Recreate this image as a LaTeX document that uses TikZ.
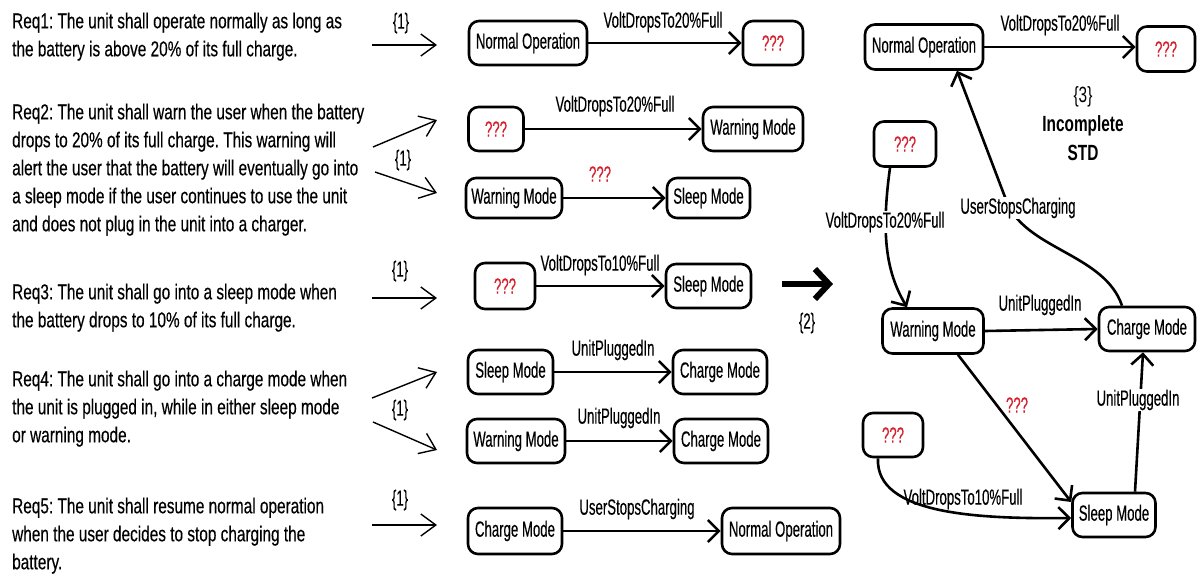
\documentclass[tikz,border=0pt]{standalone}
\usepackage{fontspec}
\setmainfont{Liberation Sans}
\newfontfamily\reqfont{Liberation Sans}[FakeStretch=0.715,FakeBold=0.3]
\newfontfamily\labfont{Liberation Sans}[FakeStretch=0.6,FakeBold=0.3]
\newfontfamily\stdfont{Liberation Sans}[FakeStretch=0.7]
\usetikzlibrary{arrows.meta}
\definecolor{qred}{RGB}{214,30,45}
\frenchspacing

\tikzset{
  state/.style={draw, line width=2.6pt, rounded corners=10pt, minimum height=44pt,
    inner sep=0pt, fill=white, font=\labfont\fontsize{22}{24}\selectfont},
  lab/.style={inner sep=1pt, font=\labfont\fontsize{22}{24}\selectfont},
  qm/.style={text=qred},
  trans/.style={line width=2.6pt, -{Straight Barb[length=11pt,width=22pt]}},
  req/.style={anchor=north west, inner sep=0pt, align=left,
    font=\reqfont\fontsize{21.5}{28}\selectfont},
  refarrow/.style={line width=1.4pt, -{Straight Barb[length=15pt,width=22pt]}},
  bigarrow/.style={line width=6pt, -{Straight Barb[length=14pt,width=30pt]}},
}

\begin{document}
\begin{tikzpicture}[x=1pt,y=-1pt]
\useasboundingbox[fill=white] (0,0) rectangle (1197,576);

% ---------- requirements ----------
\node[req] (req1) at (12,12.5) {Req1: The unit shall operate normally as long as\\the battery is above 20\% of its full charge.};
\node[req] (req2) at (12,103.5) {Req2: The unit shall warn the user when the battery\\drops to 20\% of its full charge. This warning will\\alert the user that the battery will eventually go into\\a sleep mode if the user continues to use the unit\\and does not plug in the unit into a charger.};
\node[req] (req3) at (12,283.5) {Req3: The unit shall go into a sleep mode when\\the battery drops to 10\% of its full charge.};
\node[req] (req4) at (12,370.5) {Req4: The unit shall go into a charge mode when\\the unit is plugged in, while in either sleep mode\\or warning mode.};
\node[req] (req5) at (12,497.5) {Req5: The unit shall resume normal operation\\when the user decides to stop charging the\\battery.};

% ---------- step {1} arrows ----------
\coordinate (a1s) at (372,45);  \coordinate (a1e) at (437,45);
\coordinate (a2s) at (373,147); \coordinate (a2e) at (437,120);
\coordinate (a3s) at (375,172); \coordinate (a3e) at (437,193);
\coordinate (a4s) at (372,298); \coordinate (a4e) at (437,298);
\coordinate (a5s) at (372,398); \coordinate (a5e) at (437,372);
\coordinate (a6s) at (373,422); \coordinate (a6e) at (437,450);
\coordinate (a7s) at (372,525); \coordinate (a7e) at (437,525);
\foreach \i in {1,...,7} \draw[refarrow] (a\i s) -- (a\i e);
\node[lab] (k1) at (401,23) {\{1\}};
\node[lab] (k2) at (403,160) {\{1\}};
\node[lab] (k3) at (400,271) {\{1\}};
\node[lab] (k4) at (400,410) {\{1\}};
\node[lab] (k5) at (400,500) {\{1\}};

% ---------- partial diagrams ----------
\node[state, minimum width=118pt] (n1a) at (528,43) {Normal Operation};
\node[state, minimum width=60pt, qm] (n1b) at (773,43) {???};
\node[state, minimum width=55pt, qm] (n2a) at (496,129) {???};
\node[state, minimum width=100pt] (n2b) at (753,129) {Warning Mode};
\node[state, minimum width=96pt, minimum height=40pt] (n3a) at (514,198) {Warning Mode};
\node[state, minimum width=83pt, minimum height=40pt] (n3b) at (708.5,198) {Sleep Mode};
\node[state, minimum width=60pt, minimum height=46pt, qm] (n4a) at (505,286) {???};
\node[state, minimum width=85pt] (n4b) at (708.5,286) {Sleep Mode};
\node[state, minimum width=85pt] (n5a) at (510.5,372) {Sleep Mode};
\node[state, minimum width=94pt] (n5b) at (720,372) {Charge Mode};
\node[state, minimum width=98pt] (n6a) at (516,441) {Warning Mode};
\node[state, minimum width=94pt] (n6b) at (721,441) {Charge Mode};
\node[state, minimum width=94pt, minimum height=46pt] (n7a) at (515,531) {Charge Mode};
\node[state, minimum width=118pt, minimum height=46pt] (n7b) at (781,531) {Normal Operation};

\draw[trans] (n1a.east) -- (n1b.west);
\draw[trans] (n2a.east) -- (n2b.west);
\draw[trans] (n3a.east) -- (n3b.west);
\draw[trans] (n4a.east) -- (n4b.west);
\draw[trans] (n5a.east) -- (n5b.west);
\draw[trans] (n6a.east) -- (n6b.west);
\draw[trans] (n7a.east) -- (n7b.west);

\node[lab] (l1) at (663,22) {VoltDropsTo20\%Full};
\node[lab] (l2) at (615,106) {VoltDropsTo20\%Full};
\node[lab, qm] (l3) at (600,174) {???};
\node[lab] (l4) at (600,265) {VoltDropsTo10\%Full};
\node[lab] (l5) at (613,350) {UnitPluggedIn};
\node[lab] (l6) at (619,418) {UnitPluggedIn};
\node[lab] (l7) at (637,509) {UserStopsCharging};

% ---------- step {2} ----------
\coordinate (b1) at (782,284); \coordinate (b2) at (833,284);
\draw[bigarrow] (b1) -- (b2);
\node[lab] (k6) at (807,323) {\{2\}};

% ---------- assembled state transition diagram ----------
\node[state, minimum width=118pt, minimum height=45pt] (no) at (924,47) {Normal Operation};
\node[state, minimum width=58pt, minimum height=45pt, qm] (qa) at (1166,49) {???};
\node[state, minimum width=62pt, minimum height=45pt, qm] (qb) at (905,144) {???};
\node[state, minimum width=101pt, minimum height=45pt] (wm) at (933,331) {Warning Mode};
\node[state, minimum width=96pt] (cm) at (1147,329) {Charge Mode};
\node[state, minimum width=60pt, qm] (qc) at (893,435) {???};
\node[state, minimum width=83pt] (sm) at (1114,515) {Sleep Mode};

\node[align=center, font=\stdfont\fontsize{22}{29}\selectfont] (title) at (1083,124)
  {\{3\}\\\textbf{Incomplete}\\\textbf{STD}};

\draw[trans] (no.east) -- (qa.west |- no.east);
\draw[trans] ([xshift=-15pt]qb.south) .. controls (880,240) and (888,275) .. ([xshift=-26pt]wm.north);
\draw[trans] ([xshift=-25pt]cm.north) .. controls (1105,255) and (1030,250) .. (1008,205) -- ([xshift=33pt]no.south);
\draw[trans] (wm.east) -- (cm.west);
\draw[trans] ([xshift=25pt]wm.south) -- ([yshift=13pt]sm.west);
\draw[trans] ([xshift=-15pt]qc.south) .. controls (875,515) and (980,519) .. ([yshift=-3pt]sm.west);
\draw[trans] ([xshift=21pt]sm.north) -- ([xshift=-4pt]cm.south);

\node[lab] (m1) at (1060,25) {VoltDropsTo20\%Full};
\node[lab, fill=white] (m2) at (885,222) {VoltDropsTo20\%Full};
\node[lab, fill=white] (m3) at (1018,208) {UserStopsCharging};
\node[lab] (m4) at (1040,305) {UnitPluggedIn};
\node[lab, qm] (m5) at (1017,405) {???};
\node[lab] (m6) at (963,499) {VoltDropsTo10\%Full};
\node[lab, fill=white] (m7) at (1138,400) {UnitPluggedIn};
\end{tikzpicture}
\end{document}
